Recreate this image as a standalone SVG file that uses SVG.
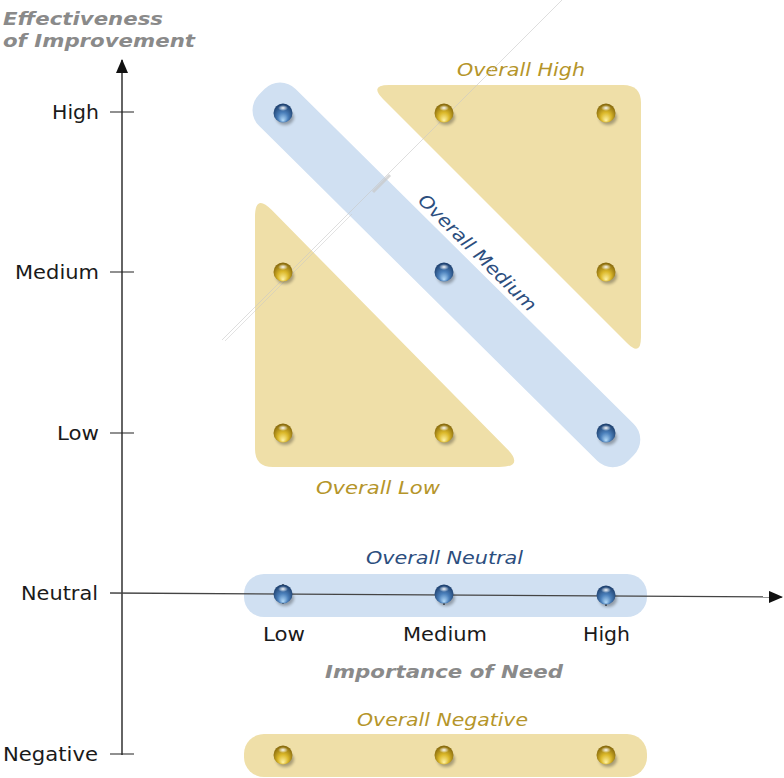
<svg xmlns="http://www.w3.org/2000/svg" xmlns:xlink="http://www.w3.org/1999/xlink" width="784" height="778" viewBox="0 0 784 778">
<defs>
<style>
.lbl{font-family:"DejaVu Sans","Liberation Sans",sans-serif;font-size:19px;fill:#1a1a1a}
.title{font-family:"DejaVu Sans","Liberation Sans",sans-serif;font-size:18px;font-weight:bold;font-style:italic;fill:#8a8a8a}
.gold{font-family:"DejaVu Sans","Liberation Sans",sans-serif;font-size:18px;font-style:italic;fill:#b5952a}
.blue{font-family:"DejaVu Sans","Liberation Sans",sans-serif;font-size:18px;font-style:italic;fill:#2c4e7e}
.yel{fill:#efdfa8}
.bl{fill:#d0e0f2}
.tick{stroke:#222;stroke-width:1.2;fill:none}
</style>
<radialGradient id="gBlue" cx="0.5" cy="0.55" r="0.6" fx="0.5" fy="0.9">
<stop offset="0" stop-color="#b3dbfa"/>
<stop offset="0.45" stop-color="#4a7fba"/>
<stop offset="1" stop-color="#173662"/>
</radialGradient>
<radialGradient id="gGold" cx="0.5" cy="0.55" r="0.6" fx="0.5" fy="0.9">
<stop offset="0" stop-color="#fff3a6"/>
<stop offset="0.45" stop-color="#dbb82a"/>
<stop offset="1" stop-color="#7a5d08"/>
</radialGradient>
<radialGradient id="gHi" cx="0.5" cy="0.5" r="0.5">
<stop offset="0" stop-color="#fff" stop-opacity="0.95"/>
<stop offset="1" stop-color="#fff" stop-opacity="0"/>
</radialGradient>
<filter id="blur" x="-50%" y="-50%" width="200%" height="200%"><feGaussianBlur stdDeviation="1.6"/></filter>
<marker id="arr" viewBox="0 0 14 12" refX="13" refY="6" markerWidth="14" markerHeight="12" markerUnits="userSpaceOnUse" orient="auto">
<path d="M0,0 L14,6 L0,12 Z" fill="#111"/>
</marker>
<g id="ballBlue">
<ellipse cx="2" cy="4.5" rx="9" ry="7.5" fill="#000" opacity="0.3" filter="url(#blur)"/>
<circle r="9.5" fill="url(#gBlue)"/>
<ellipse cy="-5" rx="5" ry="3" fill="url(#gHi)"/>
</g>
<g id="ballGold">
<ellipse cx="2" cy="4.5" rx="9" ry="7.5" fill="#000" opacity="0.3" filter="url(#blur)"/>
<circle r="9.5" fill="url(#gGold)"/>
<ellipse cy="-5" rx="5" ry="3" fill="url(#gHi)"/>
</g>
</defs>
<rect width="784" height="778" fill="#fff"/>

<g id="region-high">
<path class="yel" d="M389,85 L623,85 Q641,85 641,103 L641,337 Q641,357 627,343 L383,99 Q369,85 389,85 Z"/>
<text class="gold" x="457" y="76" textLength="128" lengthAdjust="spacingAndGlyphs">Overall High</text>
</g>
<g id="region-low">
<path class="yel" d="M255,217 L255,449 Q255,467 273,467 L499,467 Q525,467 506.7,448.5 L271.8,210.1 Q255,193 255,217 Z"/>
<text class="gold" x="316" y="494" textLength="124" lengthAdjust="spacingAndGlyphs">Overall Low</text>
</g>
<g id="region-medium">
<rect class="bl" transform="translate(283,113) rotate(44.73)" x="-30" y="-26" width="520" height="52" rx="22"/>
</g>
<g id="region-neutral">
<rect class="bl" x="244" y="574" width="403" height="43" rx="20"/>
<text class="blue" x="366" y="564" textLength="157" lengthAdjust="spacingAndGlyphs">Overall Neutral</text>
</g>
<g id="region-negative">
<rect class="yel" x="244" y="734" width="403" height="43" rx="20"/>
<text class="gold" x="357" y="726" textLength="171" lengthAdjust="spacingAndGlyphs">Overall Negative</text>
</g>

<g id="reflection" stroke="#c8c8c8" fill="none">
<line x1="222" y1="340" x2="562" y2="0" stroke-width="1" opacity="0.6"/>
<line x1="225" y1="341" x2="352" y2="214" stroke-width="1" opacity="0.5"/>
<line x1="373" y1="192" x2="390" y2="175" stroke-width="3" opacity="0.7"/>
</g>

<g id="connectors">
<line x1="122" y1="755" x2="122" y2="60" stroke="#111" stroke-width="1.3" marker-end="url(#arr)"/>
<line x1="110" y1="593" x2="782" y2="597" stroke="#444" stroke-width="1.3" marker-end="url(#arr)"/>
<path class="tick" d="M110,112H134M110,272H134M110,433H134M110,754H134"/>
<path class="tick" d="M283,584V604M444,585V605M606,586V606"/>
</g>

<g id="medium-label">
<text class="blue" x="473" y="257" text-anchor="middle" textLength="158" lengthAdjust="spacingAndGlyphs" transform="rotate(44.73 473 257)">Overall Medium</text>
</g>

<g id="axis-y-labels">
<text class="title" x="3" y="25" textLength="160" lengthAdjust="spacingAndGlyphs">Effectiveness</text>
<text class="title" x="3" y="47" textLength="192" lengthAdjust="spacingAndGlyphs">of Improvement</text>
<text class="lbl" x="52" y="119" textLength="47" lengthAdjust="spacingAndGlyphs">High</text>
<text class="lbl" x="15" y="279" textLength="84" lengthAdjust="spacingAndGlyphs">Medium</text>
<text class="lbl" x="57" y="440" textLength="42" lengthAdjust="spacingAndGlyphs">Low</text>
<text class="lbl" x="21" y="600" textLength="77" lengthAdjust="spacingAndGlyphs">Neutral</text>
<text class="lbl" x="3" y="761" textLength="95" lengthAdjust="spacingAndGlyphs">Negative</text>
</g>
<g id="axis-x-labels">
<text class="lbl" x="263" y="641" textLength="42" lengthAdjust="spacingAndGlyphs">Low</text>
<text class="lbl" x="403" y="641" textLength="84" lengthAdjust="spacingAndGlyphs">Medium</text>
<text class="lbl" x="583" y="641" textLength="47" lengthAdjust="spacingAndGlyphs">High</text>
<text class="title" x="325" y="678" textLength="238" lengthAdjust="spacingAndGlyphs">Importance of Need</text>
</g>

<g id="balls">
<use xlink:href="#ballBlue" x="283" y="113"/>
<use xlink:href="#ballGold" x="444" y="113"/>
<use xlink:href="#ballGold" x="606" y="113"/>
<use xlink:href="#ballGold" x="283" y="272"/>
<use xlink:href="#ballBlue" x="444" y="272"/>
<use xlink:href="#ballGold" x="606" y="272"/>
<use xlink:href="#ballGold" x="283" y="433"/>
<use xlink:href="#ballGold" x="444" y="433"/>
<use xlink:href="#ballBlue" x="606" y="433"/>
<use xlink:href="#ballBlue" x="283" y="594"/>
<use xlink:href="#ballBlue" x="444" y="594"/>
<use xlink:href="#ballBlue" x="606" y="595"/>
<use xlink:href="#ballGold" x="283" y="755"/>
<use xlink:href="#ballGold" x="444" y="755"/>
<use xlink:href="#ballGold" x="606" y="755"/>
</g>
</svg>
